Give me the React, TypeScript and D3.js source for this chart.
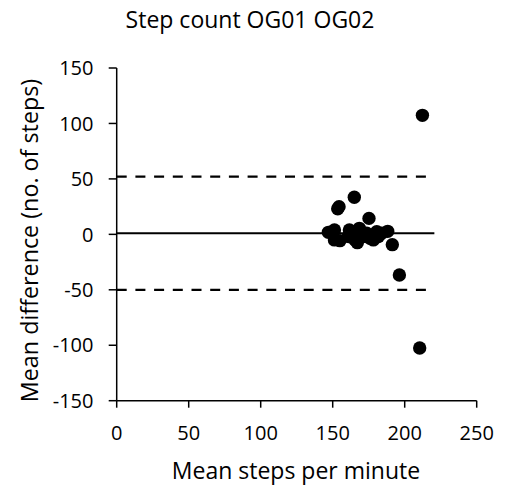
import React from "react";
import * as d3 from "d3";

const title = "Step count OG01 OG02";
const xLabel = "Mean steps per minute";
const yLabel = "Mean difference (no. of steps)";
const xTicks = [0, 50, 100, 150, 200, 250];
const yTicks = [-150, -100, -50, 0, 50, 100, 150];

const meanSteps = [212.3, 210.4, 196.3, 191.4, 188.2, 165, 154.4, 153.5, 175.2, 147, 151.2, 151.2, 155, 160.9, 161.6, 164.4, 165.5, 167.1, 168.5, 169.7, 171.3, 173.6, 175.9, 178.2, 180.6, 181.7, 184];
const meanDiff = [107.3, -102.5, -36.7, -9.3, 2.7, 33.4, 25, 23, 14.4, 1.8, 3.9, -5, -5.7, -2, 4, 1, -5, -7.5, 5.4, 1, -2, 1, -3.6, -5, 2.4, -2, 1];

const biasValue = 1;
const upperLimit = 52;
const lowerLimit = -50;
const lineExtent = [0, 220.6];

const FONT = "'Open Sans', sans-serif";

export default function App() {
  const x = d3.scaleLinear().domain([0, 250]).range([116.7, 476.7]);
  const y = d3.scaleLinear().domain([-150, 150]).range([400.7, 68]);
  const pts = meanSteps.map((v, i) => ({ x: v, y: meanDiff[i] }));

  return (
    <svg width={507} height={490} style={{ position: "absolute", left: 0, top: 0, background: "#fff" }} fontFamily={FONT}>
      <rect width={507} height={490} fill="#fff" />
      <text x={250} y={27.5} textAnchor="middle" fontSize={23} fill="#000">{title}</text>

      {/* reference lines */}
      <line x1={x(lineExtent[0])} x2={x(lineExtent[1])} y1={y(upperLimit)} y2={y(upperLimit)} stroke="#000" strokeWidth={2.2} strokeDasharray="10,8.7" />
      <line x1={x(lineExtent[0])} x2={x(lineExtent[1])} y1={y(lowerLimit)} y2={y(lowerLimit)} stroke="#000" strokeWidth={2.2} strokeDasharray="10,8.7" />
      <line x1={x(lineExtent[0])} x2={x(lineExtent[1])} y1={y(biasValue)} y2={y(biasValue)} stroke="#000" strokeWidth={2.2} />

      {/* y axis */}
      <line x1={x(0)} x2={x(0)} y1={y(150)} y2={y(-150)} stroke="#000" strokeWidth={1.5} />
      {yTicks.map((t) => (
        <g key={"y" + t}>
          <line x1={x(0) - 8} x2={x(0)} y1={y(t)} y2={y(t)} stroke="#000" strokeWidth={1.5} />
          <text x={93.5} y={y(t)} dy="0.36em" textAnchor="end" fontSize={20} fill="#000">{t}</text>
        </g>
      ))}

      {/* x axis */}
      <line x1={x(0)} x2={x(250)} y1={y(-150)} y2={y(-150)} stroke="#000" strokeWidth={1.5} />
      {xTicks.map((t) => (
        <g key={"x" + t}>
          <line x1={x(t)} x2={x(t)} y1={y(-150)} y2={y(-150) + 7} stroke="#000" strokeWidth={1.5} />
          <text x={x(t)} y={440} textAnchor="middle" fontSize={20} fill="#000">{t}</text>
        </g>
      ))}

      <text x={296} y={479} textAnchor="middle" fontSize={23} fill="#000">{xLabel}</text>
      <text transform={`translate(37.5,240.5) rotate(-90)`} textAnchor="middle" fontSize={23.3} fill="#000">{yLabel}</text>

      {pts.map((p, i) => (
        <circle key={i} cx={x(p.x)} cy={y(p.y)} r={6.7} fill="#000" />
      ))}
    </svg>
  );
}
